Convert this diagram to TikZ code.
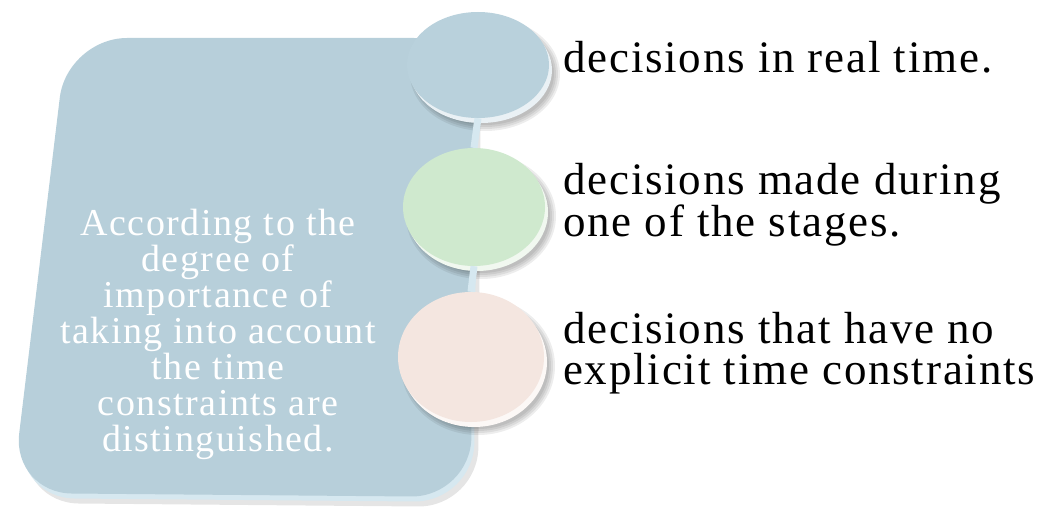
\documentclass[tikz,border=0pt]{standalone}
\usepackage{fontspec}
\setmainfont{Liberation Serif}
\newfontfamily\itemfont[LetterSpace=4]{Liberation Serif}
\newfontfamily\panelfont[LetterSpace=4]{Liberation Serif}
\usetikzlibrary{shapes.geometric}

\definecolor{panelblue}{RGB}{183,207,218}
\definecolor{panelrim}{RGB}{214,232,240}
\definecolor{discblue}{RGB}{185,209,220}
\definecolor{discgreen}{RGB}{207,233,206}
\definecolor{discpink}{RGB}{244,230,224}

\tikzset{
  disc/.style={ellipse, inner sep=0pt},
  itemtext/.style={anchor=west, inner sep=0pt, align=left,
    font=\itemfont\fontsize{45}{41}\selectfont},
  paneltext/.style={inner sep=0pt, align=center, text=white,
    font=\panelfont\fontsize{38}{36}\selectfont},
  stemline/.style={line width=7pt, draw=panelrim},
}

\begin{document}
\begin{tikzpicture}[x=1pt,y=-1pt]
\useasboundingbox (0,0) rectangle (1061,508);

% panel with shadow and rim
\foreach \dx/\dy/\fillc in {7/10/black!10, 3/5/panelrim, 0/0/panelblue}
  \fill[\fillc, rounded corners=60pt, shift={(\dx,\dy)}]
    (67,38) -- (474,38) -- (471,497) -- (12,493) -- cycle;

% discs
\foreach \name/\cx/\cy/\rx/\ry/\col in {top/478/65/71/53/discblue,
    mid/474/207/71/59/discgreen, low/471/357/73/65/discpink}{
  \foreach \k in {1,...,4}
    \fill[black, opacity=0.07] (\cx+7,\cy+9) ellipse ({\rx+6-2*\k} and {\ry+6-2*\k});
  \fill[white!70!\col] (\cx+3,\cy+5) ellipse ({\rx} and {\ry});
  \node[disc, fill=\col, minimum width={2*\rx pt}, minimum height={2*\ry pt}]
    (\name) at (\cx,\cy) {};
}

\draw[stemline] (top.south) -- (mid.north);
\draw[stemline] (mid.south) -- (low.north);

% texts
\node[paneltext] (main) at (218,334) {According to the\\degree of\\importance of\\taking into account\\the time\\constraints are\\distinguished.};

\node[itemtext, anchor=base west] (realtime) at (563,73) {decisions in real time.};
\node[itemtext] (stages) at (563,205) {decisions made during\\one of the stages.};
\node[itemtext] (noconstr) at (563,353) {decisions that have no\\explicit time constraints};

\end{tikzpicture}
\end{document}
